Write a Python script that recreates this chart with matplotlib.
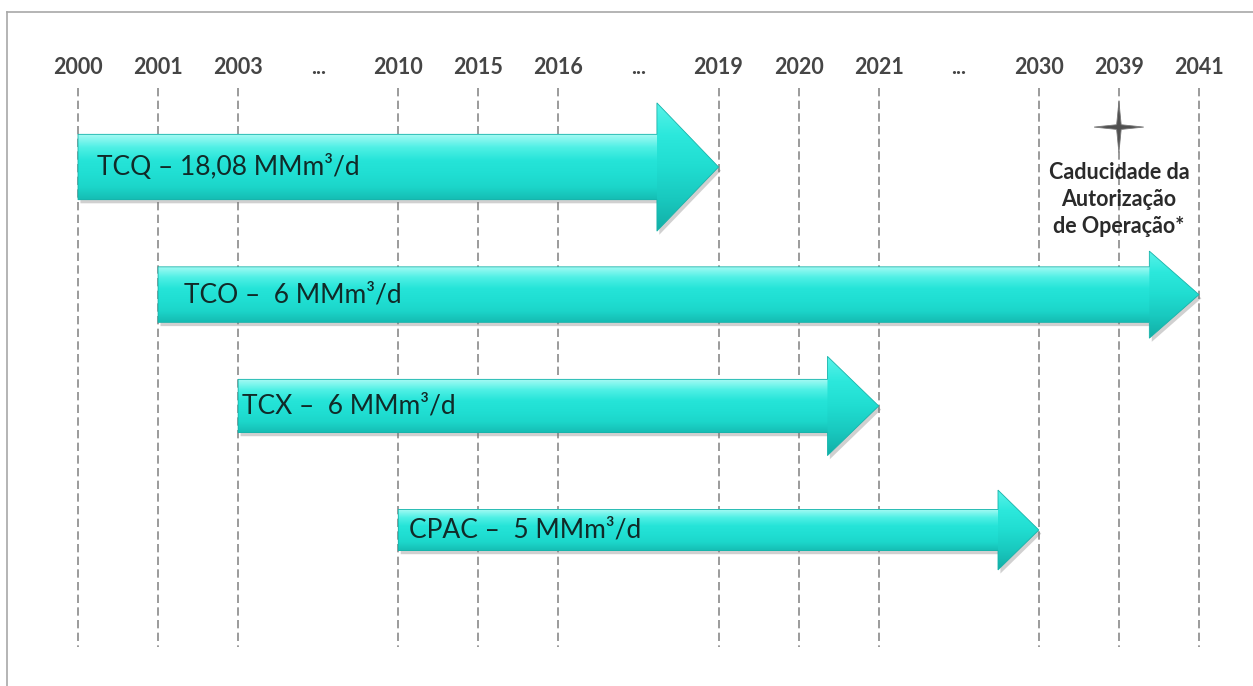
import numpy as np
import matplotlib
matplotlib.use("Agg")
import matplotlib.pyplot as plt
from matplotlib.patches import Polygon
from matplotlib.colors import LinearSegmentedColormap
from matplotlib.lines import Line2D

plt.rcParams['font.family'] = ['Lato', 'DejaVu Sans']

# timeline columns (equally spaced, "..." = skipped years)
years = ["2000", "2001", "2003", "...", "2010", "2015", "2016", "...",
         "2019", "2020", "2021", "...", "2030", "2039", "2041"]

terminals = ["TCQ", "TCO", "TCX", "CPAC"]
labels = ["TCQ – 18,08 MMm³/d", "TCO –  6 MMm³/d", "TCX –  6 MMm³/d", "CPAC –  5 MMm³/d"]
start_year = ["2000", "2001", "2003", "2010"]
end_year = ["2019", "2041", "2021", "2030"]

expiry_year = "2039"
expiry_note = "Caducidade da\nAutorização\nde Operação*"

# arrow styles per row (body half height, head half height in row units, head length in columns, text offset)
body_half = [0.27, 0.23, 0.22, 0.17]
head_half = [0.53, 0.36, 0.41, 0.33]
head_len = [0.77, 0.62, 0.64, 0.51]
text_dx = [0.24, 0.33, 0.05, 0.13]
row_shift = [0.0, 0.055, -0.025, 0.0]

W, H = 1253, 686
fig = plt.figure(figsize=(W / 100, H / 100), dpi=100)
ax = fig.add_axes([0, 0, 1, 1])
ax.axis('off')

col_px, x0_px = 80.07, 78
row_px, y0_px = 121, 167

body_cmap = LinearSegmentedColormap.from_list(
    'body', ['#a6faf4', '#4ff0e5', '#25e4d8', '#20dfd3', '#1cd6ca', '#15bcb3'])
head_cmap = LinearSegmentedColormap.from_list(
    'head', ['#5af3e9', '#2ce8dc', '#20ddd1', '#19c9bf', '#12aea6'])
grad = np.linspace(0, 1, 128).reshape(-1, 1)


def grad_patch(verts, ext, cmap, z):
    poly = Polygon(verts, closed=True, fc='none', ec='none')
    ax.add_patch(poly)
    img = ax.imshow(grad, cmap=cmap, extent=ext, aspect='auto', origin='upper',
                    interpolation='bilinear', zorder=z)
    img.set_clip_path(poly)


# year labels and dashed guide lines
for i, y in enumerate(years):
    ax.text(i, -0.82, y, ha='center', va='center', fontsize=15.5,
            fontweight='bold', color='#454545')
    if y != "...":
        ax.vlines(i, -0.65, 3.97, colors='#8a8a8a', linestyles=(0, (5, 2.6)),
                  lw=1.2, zorder=1)

for r in range(len(terminals)):
    xs = years.index(start_year[r])
    xe = years.index(end_year[r])
    c = r + row_shift[r]
    bh, hh, hl = body_half[r], head_half[r], head_len[r]
    xb = xe - hl
    outline = [(xs, c - bh), (xb, c - bh), (xb, c - hh), (xe, c), (xb, c + hh),
               (xb, c + bh), (xs, c + bh)]
    # soft shadow
    sh = [(x + 0.03, y + 0.03) for x, y in outline]
    ax.add_patch(Polygon(sh, closed=True, fc='#7a7a7a', ec='none', alpha=0.35, zorder=2))
    grad_patch([(xs, c - bh), (xb + 0.01, c - bh), (xb + 0.01, c + bh), (xs, c + bh)],
               (xs, xb + 0.01, c + bh, c - bh), body_cmap, 3)
    grad_patch([(xb, c - hh), (xe, c), (xb, c + hh)],
               (xb, xe, c + hh, c - hh), head_cmap, 3)
    ax.add_patch(Polygon(outline, closed=True, fc='none', ec='#17b3aa', lw=0.6, zorder=4))
    ax.text(xs + text_dx[r], c, labels[r], ha='left', va='center', fontsize=19,
            color='#112a28', zorder=5)

# expiry marker (4-pointed star)
cx = years.index(expiry_year)
cy = -0.33
ang = np.arange(8) * np.pi / 4
rad = np.where(np.arange(8) % 2 == 0, 1.0, 0.13)
star = np.column_stack([cx + 0.31 * rad * np.cos(ang), cy + 0.21 * rad * np.sin(ang)])
ax.add_patch(Polygon(star, closed=True, fc='#505050', ec='#7a7a7a', lw=0.6, zorder=4))
ax.text(cx, -0.04, expiry_note, ha='center', va='top', fontsize=15.5,
        fontweight='bold', color='#2a2a2a', linespacing=1.35)

ax.set_xlim(-x0_px / col_px, (W - x0_px) / col_px)
ax.set_ylim((H - y0_px) / row_px, -y0_px / row_px)

# frame (top and left edge only are visible)
fig.add_artist(Line2D([7 / W, 1], [1 - 12 / H, 1 - 12 / H], color='#a8a8a8', lw=1.2))
fig.add_artist(Line2D([7 / W, 7 / W], [0, 1 - 12 / H], color='#a8a8a8', lw=1.2))

fig.savefig("out.png", dpi=100)
